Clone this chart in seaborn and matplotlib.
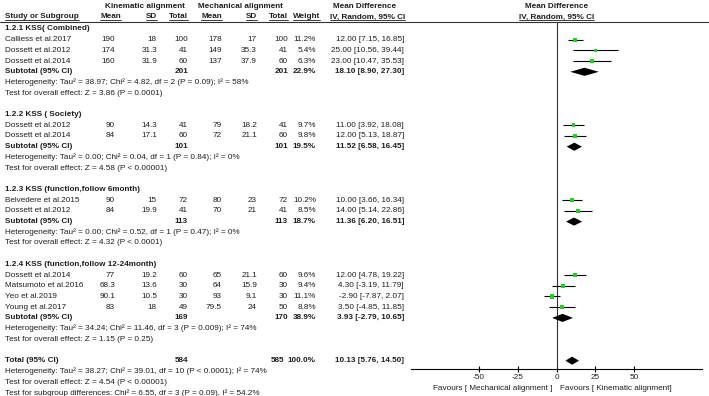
import matplotlib
matplotlib.use("Agg")
import matplotlib.pyplot as plt
import seaborn as sns
import pandas as pd
from matplotlib.transforms import blended_transform_factory
from matplotlib.lines import Line2D

sns.set_theme(style="white")
plt.rcParams["font.family"] = ["Liberation Sans", "DejaVu Sans"]
plt.rcParams["axes.unicode_minus"] = False

# --- data ---
group_titles = ["1.2.1 KSS( Combined)", "1.2.2 KSS ( Society)",
                "1.2.3 KSS (function,follow 6month)",
                "1.2.4 KSS (function,follow 12-24month)"]
studies = ["Calliess et al.2017", "Dossett et al.2012", "Dossett et al.2014",
           "Dossett et al.2012", "Dossett et al.2014",
           "Belvedere et al.2015", "Dossett et al.2012",
           "Dossett et al.2014", "Matsumoto et al.2016", "Yeo et al.2019", "Young et al.2017"]
study_group = [0, 0, 0, 1, 1, 2, 2, 3, 3, 3, 3]
ka_mean = [190, 174, 160, 90, 84, 90, 84, 77, 68.3, 90.1, 83]
ka_sd = [18, 31.3, 31.9, 14.3, 17.1, 15, 19.9, 19.2, 13.6, 10.5, 18]
ka_n = [100, 41, 60, 41, 60, 72, 41, 60, 30, 30, 49]
ma_mean = [178, 149, 137, 79, 72, 80, 70, 65, 64, 93, 79.5]
ma_sd = [17, 35.3, 37.9, 18.2, 21.1, 23, 21, 21.1, 15.9, 9.1, 24]
ma_n = [100, 41, 60, 41, 60, 72, 41, 60, 30, 30, 50]
weight = [11.2, 5.4, 6.3, 9.7, 9.8, 10.2, 8.5, 9.6, 9.4, 11.1, 8.8]
md = [12.00, 25.00, 23.00, 11.00, 12.00, 10.00, 14.00, 12.00, 4.30, -2.90, 3.50]
md_lo = [7.15, 10.56, 10.47, 3.92, 5.13, 3.66, 5.14, 4.78, -3.19, -7.87, -4.85]
md_hi = [16.85, 39.44, 35.53, 18.08, 18.87, 16.34, 22.86, 19.22, 11.79, 2.07, 11.85]

sub_md = [18.10, 11.52, 11.36, 3.93]
sub_lo = [8.90, 6.58, 6.20, -2.79]
sub_hi = [27.30, 16.45, 16.51, 10.65]
sub_het = ["Heterogeneity: Tau² = 38.97; Chi² = 4.82, df = 2 (P = 0.09); I² = 58%",
           "Heterogeneity: Tau² = 0.00; Chi² = 0.04, df = 1 (P = 0.84); I² = 0%",
           "Heterogeneity: Tau² = 0.00; Chi² = 0.52, df = 1 (P = 0.47); I² = 0%",
           "Heterogeneity: Tau² = 34.24; Chi² = 11.46, df = 3 (P = 0.009); I² = 74%"]
sub_test = ["Test for overall effect: Z = 3.86 (P = 0.0001)",
            "Test for overall effect: Z = 4.58 (P < 0.00001)",
            "Test for overall effect: Z = 4.32 (P < 0.0001)",
            "Test for overall effect: Z = 1.15 (P = 0.25)"]

total_md, total_lo, total_hi = 10.13, 5.76, 14.50
total_notes = ["Heterogeneity: Tau² = 38.27; Chi² = 39.01, df = 10 (P < 0.0001); I² = 74%",
               "Test for overall effect: Z = 4.54 (P < 0.00001)",
               "Test for subgroup differences: Chi² = 6.55, df = 3 (P = 0.09), I² = 54.2%"]

xticks = [-50, -25, 0, 25, 50]
fav_left = "Favours [ Mechanical alignment ]"
fav_right = "Favours [ Kinematic alignment]"

# --- layout (pixels) ---
W, H = 709, 396
FS = 5.85
TXT = "#1e1e1e"
ROW0, ROWH = 29, 10.7
col = {"ka_mean": 115, "ka_sd": 157, "ka_n": 188, "ma_mean": 222,
       "ma_sd": 257, "ma_n": 288, "weight": 316, "ci": 404}


def prow(y):
    return (y - ROW0) / ROWH


fig = plt.figure(figsize=(W / 100, H / 100), dpi=100)
ax = fig.add_axes([411 / W, 1 - 369 / H, (702 - 411) / W, (369 - 22) / H])
tr = blended_transform_factory(fig.transFigure, ax.transData)


def put(xp, row, s, ha="right", bold=False):
    return ax.text(xp / W, row, s, transform=tr, ha=ha, va="center", fontsize=FS,
                   color=TXT, fontweight="bold" if bold else "normal", clip_on=False)


def fmt_ci(m, lo, hi):
    return f"{m:.2f} [{lo:.2f}, {hi:.2f}]"


# build rows
study_rows, sub_rows = [], []
r = 0
for g, title in enumerate(group_titles):
    put(5, r, title, ha="left", bold=True)
    r += 1
    idx = [i for i, sg in enumerate(study_group) if sg == g]
    for i in idx:
        study_rows.append(r)
        put(5, r, studies[i], ha="left")
        put(col["ka_mean"], r, f"{ka_mean[i]:g}")
        put(col["ka_sd"], r, f"{ka_sd[i]:g}")
        put(col["ka_n"], r, f"{ka_n[i]:g}")
        put(col["ma_mean"], r, f"{ma_mean[i]:g}")
        put(col["ma_sd"], r, f"{ma_sd[i]:g}")
        put(col["ma_n"], r, f"{ma_n[i]:g}")
        put(col["weight"], r, f"{weight[i]:.1f}%")
        put(col["ci"], r, fmt_ci(md[i], md_lo[i], md_hi[i]))
        r += 1
    sub_rows.append(r)
    put(5, r, "Subtotal (95% CI)", ha="left", bold=True)
    put(col["ka_n"], r, f"{sum(ka_n[i] for i in idx)}", bold=True)
    put(col["ma_n"], r, f"{sum(ma_n[i] for i in idx)}", bold=True)
    put(col["weight"], r, f"{sum(weight[i] for i in idx):.1f}%", bold=True)
    put(col["ci"], r, fmt_ci(sub_md[g], sub_lo[g], sub_hi[g]), bold=True)
    put(5, r + 1, sub_het[g], ha="left")
    put(5, r + 2, sub_test[g], ha="left")
    r += 4

total_row = r
put(5, r, "Total (95% CI)", ha="left", bold=True)
put(col["ka_n"], r, f"{sum(ka_n)}", bold=True)
put(col["ma_n"] - 4, r, f"{sum(ma_n)}", bold=True)
put(col["weight"], r, f"{sum(weight):.1f}%", bold=True)
put(col["ci"], r, fmt_ci(total_md, total_lo, total_hi), bold=True)
for k, note in enumerate(total_notes):
    put(5, r + 1 + k, note, ha="left")

# header
h1, h2 = prow(7), prow(17)
put(145, h1, "Kinematic alignment", ha="center", bold=True)
put(240, h1, "Mechanical alignment", ha="center", bold=True)
put(365, h1, "Mean Difference", ha="center", bold=True)
ax.text(0, h1, "Mean Difference", ha="center", va="center", fontsize=FS,
        color=TXT, fontweight="bold", clip_on=False)
hdr = [put(5, h2, "Study or Subgroup", ha="left", bold=True),
       put(121, h2, "Mean", bold=True), put(157, h2, "SD", bold=True),
       put(188, h2, "Total", bold=True), put(222, h2, "Mean", bold=True),
       put(257, h2, "SD", bold=True), put(288, h2, "Total", bold=True),
       put(320, h2, "Weight", bold=True),
       put(405, h2, "IV, Random, 95% CI", bold=True),
       ax.text(0, h2, "IV, Random, 95% CI", ha="center", va="center", fontsize=FS,
               color=TXT, fontweight="bold", clip_on=False)]

fig.add_artist(Line2D([0, 1], [1 - 22 / H] * 2, transform=fig.transFigure,
                      color="#333333", lw=0.8))

# --- forest plot ---
df = pd.DataFrame({"md": md, "lo": md_lo, "hi": md_hi, "w": weight, "row": study_rows})
ax.hlines(df["row"], df["lo"], df["hi"], color="black", lw=0.8, zorder=2)
sns.scatterplot(data=df, x="md", y="row", size="w", sizes=(5, 9), marker="s",
                color="#1ad61a", edgecolor="none", legend=False, ax=ax, zorder=3)

dh = 0.38
for g in range(len(group_titles)):
    y = sub_rows[g]
    ax.fill([sub_lo[g], sub_md[g], sub_hi[g], sub_md[g]], [y, y - dh, y, y + dh],
            color="black", lw=0, zorder=3)
ax.fill([total_lo, total_md, total_hi, total_md],
        [total_row, total_row - dh, total_row, total_row + dh], color="black", lw=0, zorder=3)

ax.axvline(0, color="#333333", lw=0.8, zorder=1)
ax.set_xlim(-94, 94)
ax.set_ylim(prow(369), prow(22))
ax.set_xlabel("")
ax.set_ylabel("")
ax.set_yticks([])
ax.set_xticks(xticks)
ax.set_xticklabels([str(t) for t in xticks])
ax.tick_params(axis="x", bottom=True, direction="inout", length=5, width=0.8,
               color="black", labelsize=FS, labelcolor=TXT, pad=1)
for s in ["top", "left", "right"]:
    ax.spines[s].set_visible(False)
ax.spines["bottom"].set_color("black")
ax.spines["bottom"].set_linewidth(0.8)
ax.patch.set_alpha(0)

fy = prow(388)
ax.text(-2.5, fy, fav_left, ha="right", va="center", fontsize=FS, color=TXT, clip_on=False)
ax.text(2.5, fy, fav_right, ha="left", va="center", fontsize=FS, color=TXT, clip_on=False)

# underline the column headers
fig.canvas.draw()
rend = fig.canvas.get_renderer()
for t in hdr:
    bb = t.get_window_extent(rend)
    yy = (bb.y0 + 0.5) / H
    fig.add_artist(Line2D([bb.x0 / W, bb.x1 / W], [yy, yy], transform=fig.transFigure,
                          color=TXT, lw=0.6))

fig.savefig("out.png", dpi=100)
